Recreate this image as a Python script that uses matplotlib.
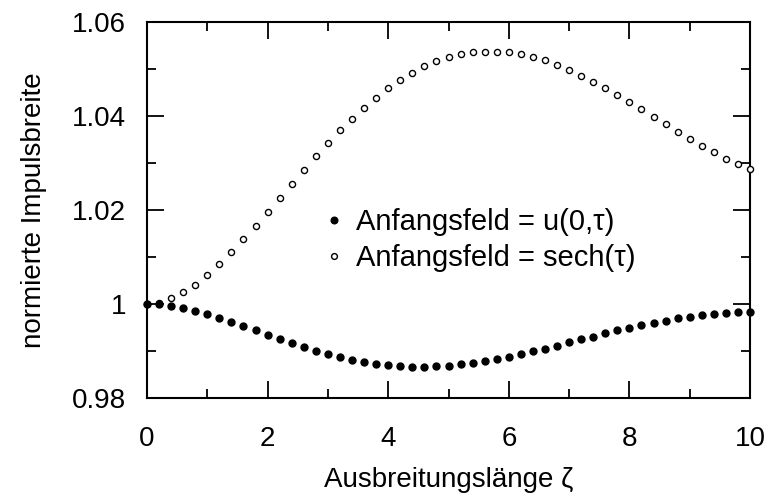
import matplotlib.pyplot as plt
import numpy as np

plt.rcParams['font.family'] = ['Liberation Sans', 'DejaVu Sans']

# Ausbreitungslänge zeta, Schrittweite 0.2
zeta = np.linspace(0, 10, 51)

# normierte Impulsbreite, Anfangsfeld = u(0,tau)
breite_u0 = [
    1.0000, 0.99995, 0.99965, 0.99915, 0.99858, 0.99787, 0.99709, 0.99617,
    0.99539, 0.99440, 0.99347, 0.99255, 0.99163, 0.99078, 0.99000, 0.98929,
    0.98865, 0.98809, 0.98766, 0.98723, 0.98695, 0.98674, 0.98660, 0.98660,
    0.98674, 0.98681, 0.98716, 0.98752, 0.98794, 0.98830, 0.98879, 0.98936,
    0.98993, 0.99050, 0.99113, 0.99184, 0.99255, 0.99305, 0.99383, 0.99447,
    0.99489, 0.99553, 0.99603, 0.99645, 0.99695, 0.99723, 0.99773, 0.99794,
    0.99816, 0.99823, 0.99830,
]

# normierte Impulsbreite, Anfangsfeld = sech(tau)
breite_sech = [
    1.0000, 1.00030, 1.00121, 1.00248, 1.00411, 1.00617, 1.00844, 1.01113,
    1.01376, 1.01660, 1.01965, 1.02262, 1.02560, 1.02844, 1.03149, 1.03418,
    1.03695, 1.03936, 1.04170, 1.04390, 1.04589, 1.04773, 1.04922, 1.05057,
    1.05170, 1.05255, 1.05312, 1.05355, 1.05369, 1.05369, 1.05355, 1.05312,
    1.05262, 1.05191, 1.05085, 1.04979, 1.04858, 1.04730, 1.04589, 1.04440,
    1.04298, 1.04142, 1.03986, 1.03830, 1.03667, 1.03518, 1.03369, 1.03227,
    1.03092, 1.02972, 1.02865,
]

xticks = [0, 2, 4, 6, 8, 10]
yticks = [0.98, 1.00, 1.02, 1.04, 1.06]
ytick_labels = ['0.98', '1', '1.02', '1.04', '1.06']

fig = plt.figure(figsize=(7.68, 4.98), dpi=100)
ax = fig.add_axes([0.1914, 0.2008, 0.7852, 0.755])

ax.plot(zeta, breite_sech, 'o', ls='none', ms=4.4, mfc='white', mec='black',
        mew=1.0, label='Anfangsfeld = sech(τ)', clip_on=False, zorder=3)
ax.plot(zeta, breite_u0, 'o', ls='none', ms=5.0, color='black',
        label='Anfangsfeld = u(0,τ)', clip_on=False, zorder=4)

ax.set_xlim(0, 10)
ax.set_ylim(0.98, 1.06)
ax.set_xticks(xticks)
ax.set_xticks(np.arange(1, 10, 2), minor=True)
ax.set_yticks(yticks)
ax.set_yticklabels(ytick_labels)
ax.set_yticks([0.99, 1.01, 1.03, 1.05], minor=True)

ax.tick_params(which='both', direction='in', top=True, right=True, width=1.3)
ax.tick_params(which='major', length=12)
ax.tick_params(which='minor', length=6.5)
ax.tick_params(axis='x', which='major', labelsize=20, pad=20)
ax.tick_params(axis='y', which='major', labelsize=20, pad=15)
for sp in ax.spines.values():
    sp.set_linewidth(1.5)

ax.set_xlabel('Ausbreitungslänge ζ', fontsize=20, labelpad=11)
ax.set_ylabel('normierte Impulsbreite', fontsize=20, labelpad=18)

h, l = ax.get_legend_handles_labels()
ax.legend(h[::-1], l[::-1], loc='center left', bbox_to_anchor=(0.272, 0.42),
          frameon=False, fontsize=21, markerscale=0.95, handlelength=0.6,
          handletextpad=0.45, borderpad=0, labelspacing=0.3)

fig.savefig('out.png', dpi=100)
